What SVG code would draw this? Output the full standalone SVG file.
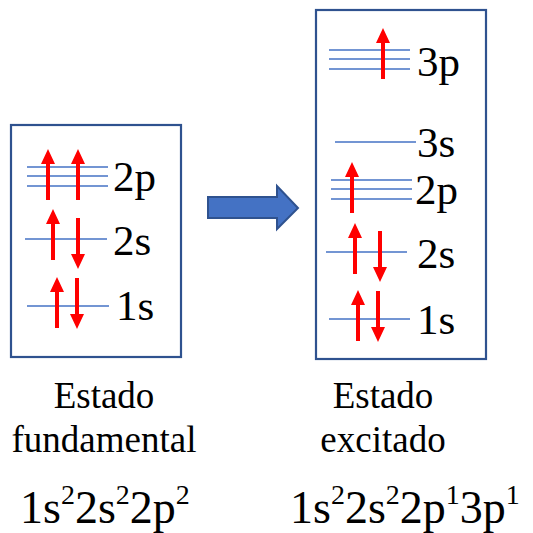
<svg xmlns="http://www.w3.org/2000/svg" width="533" height="533" viewBox="0 0 533 533">
<style>
.box{fill:#fff;stroke:#2F528F;stroke-width:2.2}
.orb{stroke:#4472C4;stroke-width:1.4;fill:none}
.el{fill:#FF0000}
</style>
<defs>
<path id="up" d="M0,0 L7,15 L2,15 L2,51 L-2,51 L-2,15 L-7,15 Z"/>
<path id="dn" d="M0,0 L7,-15 L2,-15 L2,-51 L-2,-51 L-2,-15 L-7,-15 Z"/>
</defs>
<rect width="533" height="533" fill="#fff"/>
<g id="ground">
<rect class="box" x="11" y="125" width="170" height="232"/>
<g class="orb">
<line x1="27" y1="167" x2="108" y2="167"/><line x1="27" y1="176" x2="108" y2="176"/><line x1="27" y1="186" x2="108" y2="186"/>
<line x1="25" y1="239" x2="107" y2="239"/>
<line x1="27" y1="306" x2="109" y2="306"/>
</g>
<g class="el">
<use href="#up" x="48" y="149"/><use href="#up" x="78" y="149"/>
<use href="#up" x="53" y="209"/><use href="#dn" x="78" y="269"/>
<use href="#up" x="57" y="277"/><use href="#dn" x="77" y="329"/>
</g>
<g font-family="Liberation Serif, Times New Roman, serif" font-size="43" fill="#000">
<text x="113" y="191">2p</text>
<text x="113" y="255">2s</text>
<text x="116" y="320">1s</text>
</g>
</g>
<g id="excited">
<rect class="box" x="316" y="10" width="170" height="349"/>
<g class="orb">
<line x1="329" y1="50" x2="410" y2="50"/><line x1="329" y1="59" x2="410" y2="59"/><line x1="329" y1="69" x2="410" y2="69"/>
<line x1="335" y1="142" x2="416" y2="142"/>
<line x1="331" y1="180" x2="412" y2="180"/><line x1="331" y1="189" x2="412" y2="189"/><line x1="331" y1="199" x2="412" y2="199"/>
<line x1="326" y1="252" x2="407" y2="252"/>
<line x1="329" y1="319" x2="410" y2="319"/>
</g>
<g class="el">
<use href="#up" x="383" y="28"/>
<use href="#up" x="352" y="162"/>
<use href="#up" x="355" y="223"/><use href="#dn" x="380" y="282"/>
<use href="#up" x="358" y="290"/><use href="#dn" x="378" y="342"/>
</g>
<g font-family="Liberation Serif, Times New Roman, serif" font-size="43" fill="#000">
<text x="417" y="76">3p</text>
<text x="417" y="157">3s</text>
<text x="415" y="204">2p</text>
<text x="417" y="268">2s</text>
<text x="417" y="334">1s</text>
</g>
</g>
<g id="connectors">
<polygon points="208,197 277,197 277,186 298,208 277,229 277,218 208,218" fill="#4472C4" stroke="#2F528F" stroke-width="2"/>
</g>
<g id="captions" fill="#000" font-family="Liberation Serif, Times New Roman, serif">
<g font-size="37" text-anchor="middle">
<text x="104" y="408">Estado</text>
<text x="104" y="452">fundamental</text>
<text x="383" y="408">Estado</text>
<text x="383" y="452">excitado</text>
</g>
<g font-size="46">
<text x="20" y="523">1s<tspan font-size="28" dy="-19">2</tspan><tspan dy="19">2s</tspan><tspan font-size="28" dy="-19">2</tspan><tspan dy="19">2p</tspan><tspan font-size="28" dy="-19">2</tspan></text>
<text x="290" y="523">1s<tspan font-size="28" dy="-19">2</tspan><tspan dy="19">2s</tspan><tspan font-size="28" dy="-19">2</tspan><tspan dy="19">2p</tspan><tspan font-size="28" dy="-19">1</tspan><tspan dy="19">3p</tspan><tspan font-size="28" dy="-19">1</tspan></text>
</g>
</g>
</svg>
